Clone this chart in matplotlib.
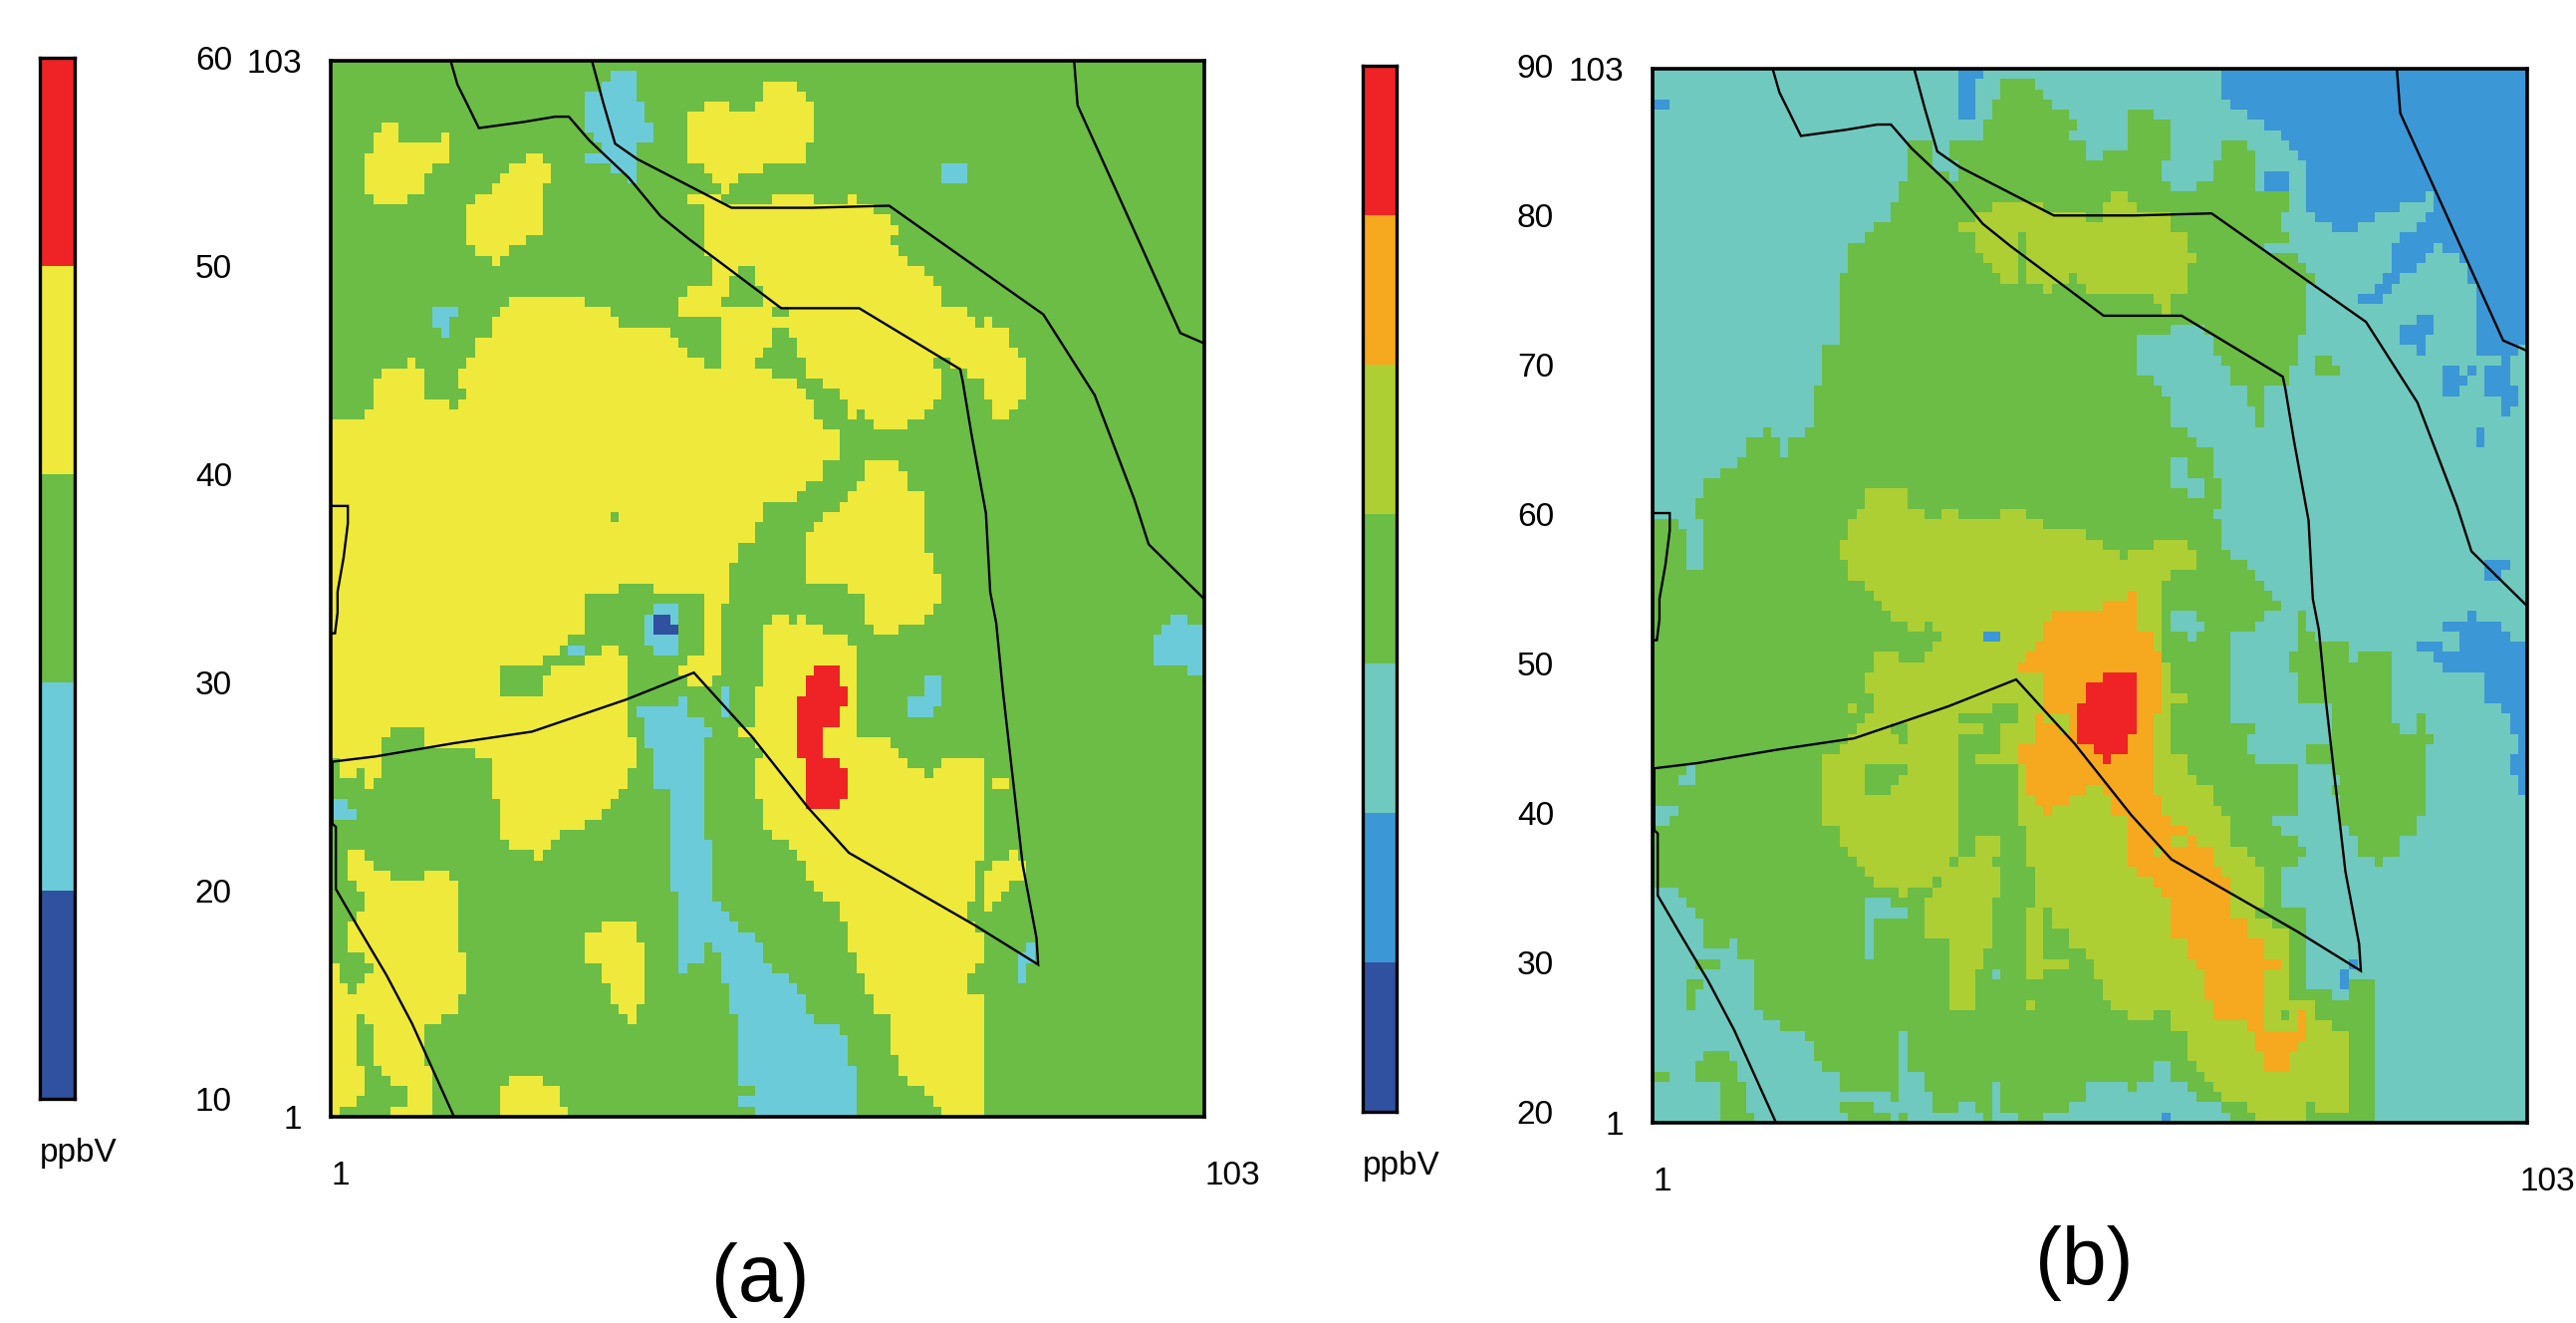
import numpy as np
import matplotlib
matplotlib.use("Agg")
import matplotlib.pyplot as plt
from matplotlib.colors import ListedColormap
from matplotlib.path import Path
from matplotlib.transforms import ScaledTranslation

W, H = 2586, 1328

levels_a = [10, 20, 30, 40, 50, 60]
levels_b = [20, 30, 40, 50, 60, 70, 80, 90]
colors_a = ["#3050a0", "#6ccbd9", "#6bbd45", "#eee93b", "#ef2325"]
colors_b = ["#3050a0", "#3b97d6", "#6fc9be", "#6bbd45", "#adcf33", "#f6a81e", "#ef2325"]

# district outlines, (column, row) on the 103 x 103 model grid
line_1 = [(15, 103), (15.8, 100.7), (17, 98.7), (18.3, 96.5), (23.6, 97.1), (27.2, 97.6), (28.8, 97.6), (31.2, 95.3),
          (35.8, 91.7), (39.5, 88), (42.8, 85.8), (46.2, 83.7), (53.6, 79.1), (62.7, 79.1), (74.5, 73.2), (74.8, 72),
          (75.8, 67), (77.5, 59.3), (78, 51.7), (78.7, 48.7), (79.5, 42), (80.5, 34.7), (81.8, 25.3), (83.4, 18.3),
          (83.6, 15.7), (76.2, 19.5), (61.5, 26.5), (56.8, 30.8), (50.2, 37.7), (43.4, 43.9), (35.5, 41.3),
          (24.5, 38.2), (15.5, 37.1), (6.2, 35.8), (1.2, 35.3), (1.2, 29.3), (1.6, 29), (1.6, 23), (4.2, 19.3),
          (7.5, 14.7), (10.5, 10), (15.4, 1)]
line_2 = [(31.5, 103), (32.8, 99), (34.2, 95), (36.8, 93.5), (47.8, 88.8), (57.2, 88.8), (66.2, 89), (84.2, 78.5),
          (90.2, 70.7), (94.8, 60.7), (96.5, 56.3), (103, 51)]
line_3 = [(87.8, 103), (88.2, 98.7), (92.8, 90.3), (100.2, 76.7), (103, 75.7)]
line_4 = [(1, 60), (3, 60), (3, 58.3), (2.5, 55), (1.8, 51.7), (1.8, 49.7), (1.5, 47.7), (1, 47.7)]
lines = [line_1, line_2, line_3, line_4]

# panel (a) regions, painted in order over the base level
a_yellow_1 = [(6.5, 96.9), (8.5, 96.9), (8.5, 96.3), (9.5, 95.2), (13.5, 95.2), (13.5, 96.3), (14.5, 96.3), (14.5, 93.1),
              (12.5, 93.1), (12.5, 92), (11.4, 92), (11.4, 90.3), (9.5, 90.3), (9.5, 89.2), (5.6, 89.2), (5.6, 90.3),
              (4.6, 90.3), (4.6, 94.1), (5.6, 94.1), (5.6, 96.3), (6.5, 96.3)]
a_yellow_2 = [(23.3, 94.1), (26.1, 94.1), (26.1, 93.1), (27.2, 93.1), (27.2, 91.3), (26.1, 91.3), (26.1, 86.3),
              (23.3, 86.3), (23.3, 85.3), (22.2, 85.3), (22.2, 84.2), (21.2, 84.2), (21.2, 83.1), (19.4, 83.1),
              (19.4, 84.2), (18.3, 84.2), (18.3, 85.3), (17.3, 85.3), (17.3, 89.2), (18.3, 89.2), (18.3, 90.3),
              (19.4, 90.3), (19.4, 91.3), (21.2, 91.3), (21.2, 92), (22.2, 92), (22.2, 93.1), (23.3, 93.1)]
a_yellow_3 = [(51.9, 101.2), (55, 101.2), (55, 100.1), (56, 100.1), (56, 99.1), (57.8, 99.1), (57.8, 95.2), (56.8, 95.2),
              (56.8, 94.1), (56, 94.1), (56, 93.1), (51.9, 93.1), (51.9, 92), (49, 92), (49, 91.3), (48, 91.3),
              (48, 90.3), (46.2, 90.3), (46.2, 91.3), (45.2, 91.3), (45.2, 92), (44.1, 92), (44.1, 93.1), (43, 93.1),
              (43, 98), (44.1, 98), (44.1, 99.1), (48, 99.1), (48, 98), (50.2, 98), (50.2, 99.1), (51.2, 99.1),
              (51.2, 100.1), (51.9, 100.1)]
a_yellow_main = [(22.2, 80.3), (30.4, 80.3), (30.4, 79.2), (33.2, 79.2), (33.2, 78.2), (34.2, 78.2), (34.2, 77.1),
                 (40.3, 77.1), (40.3, 76.4), (42, 76.4), (42, 75.3), (43, 75.3), (43, 74.3), (44.1, 74.3), (44.1, 73.2),
                 (46.2, 73.2), (46.2, 78.2), (42, 78.2), (42, 80.3), (43, 80.3), (43, 81.3), (45.2, 81.3), (45.2, 84.2),
                 (44.1, 85.3), (44.1, 89.2), (43, 89.2), (43, 90.3), (45.2, 90.3), (48, 89.2), (52.8, 89.2), (52.8, 90.3),
                 (56, 90.3), (56, 91.3), (56.8, 91.3), (56.8, 90.3), (57.8, 90.3), (57.8, 89.2), (61.7, 89.2),
                 (61.7, 90.3), (62.8, 90.3), (62.8, 89.2), (64.8, 89.2), (64.8, 88.2), (66.7, 88.2), (66.7, 87.1),
                 (67.7, 87.1), (67.7, 86.3), (66.7, 86.3), (66.7, 85.3), (67.7, 85.3), (67.7, 84.2), (68.7, 84.2),
                 (68.7, 83.1), (69.9, 83.1), (69.9, 82), (70.9, 82), (70.9, 81.3), (72, 81.3), (72, 80.3), (72.7, 80.3),
                 (72.7, 79.2), (74.8, 79.2), (74.8, 78.2), (75.8, 78.2), (75.8, 77.1), (76.8, 77.1), (76.8, 78.2),
                 (78.6, 78.2), (78.6, 77.1), (79.8, 77.1), (79.8, 75.3), (80.8, 75.3), (80.8, 74.3), (81.8, 74.3),
                 (81.8, 70.3), (80.8, 70.3), (80.8, 69.3), (79.8, 69.3), (79.8, 68.2), (78.6, 68.2), (78.6, 70.3),
                 (77.5, 70.3), (77.5, 71.1), (76.8, 72.2), (74.8, 72.2), (74.8, 73.2), (72, 73.2), (72, 70.3),
                 (70.9, 70.3), (70.9, 69.3), (69.9, 69.3), (69.9, 68.2), (68.7, 68.2), (68.7, 67.1), (64.8, 67.1),
                 (64.8, 68.2), (63.8, 68.2), (63.8, 69.3), (62.8, 69.3), (62.8, 68.2), (61.7, 68.2), (61.7, 69.3),
                 (61, 69.3), (61, 70.3), (60, 70.3), (60, 71.1), (58.8, 71.1), (58.8, 72.2), (56.8, 72.2), (56.8, 73.2),
                 (56, 73.2), (56, 74.3), (55, 74.3), (55, 76.4), (54, 76.4), (54, 77.1), (52.8, 77.1), (52.8, 75.3),
                 (51.9, 75.3), (51.9, 74.3), (50.2, 74.3), (50.2, 73.2), (52.8, 73.2), (52.8, 72.2), (55, 72.2),
                 (55, 71.3), (56.8, 71.3), (56.8, 70.3), (57.8, 70.3), (57.8, 68.2), (58.8, 68.2), (58.8, 67.1),
                 (60, 67.1), (60, 64.3), (58.8, 64.3), (58.8, 62.2), (56.8, 62.2), (56.8, 61.1), (55, 61.1), (55, 60.5),
                 (51.9, 60.5), (51.9, 59.3), (51.2, 59.3), (51.2, 58.3), (50.2, 58.3), (50.2, 56.2), (49, 56.2),
                 (49, 54.4), (48, 54.4), (48, 50.7), (46.9, 50.7), (46.9, 47.6), (46.2, 47.6), (46.2, 43.7), (45.2, 42.6),
                 (43, 42.6), (43, 43.7), (42, 43.7), (42, 44.7), (43, 44.7), (43, 45.8), (44.1, 45.8), (44.1, 51.5),
                 (39.1, 51.5), (39.1, 52.3), (34.2, 52.3), (34.2, 51.5), (31.1, 51.5), (31.1, 48.7), (30.4, 48.7),
                 (30.4, 47.6), (29.2, 47.6), (29.2, 46.5), (28.2, 46.5), (28.2, 45.8), (25.4, 45.8), (25.4, 44.7),
                 (21.2, 44.7), (21.2, 43.7), (20.5, 43.7), (20.5, 42.6), (21.2, 42.6), (21.2, 41.5), (25.4, 41.5),
                 (25.4, 40.9), (26.1, 40.9), (26.1, 43.7), (27.2, 43.7), (27.2, 44.7), (30.4, 44.7), (30.4, 45.8),
                 (32.2, 45.8), (32.2, 46.5), (34.2, 46.5), (34.2, 45.8), (35.3, 45.8), (35.3, 37.7), (36.3, 37.7),
                 (36.3, 34.8), (35.3, 34.8), (35.3, 32.7), (34.2, 32.7), (34.2, 31.6), (33.2, 31.6), (33.2, 30.5),
                 (32.2, 30.5), (32.2, 29.8), (30.4, 29.8), (30.4, 28.8), (28.2, 28.8), (28.2, 27.7), (27.2, 27.7),
                 (27.2, 26.6), (26.1, 26.6), (26.1, 25.6), (24.4, 25.6), (24.4, 26.6), (22.2, 26.6), (22.2, 27.7),
                 (21.2, 27.7), (21.2, 28.8), (20.5, 28.8), (20.5, 31.6), (19.4, 31.6), (19.4, 35.8), (18.3, 35.8),
                 (18.3, 36.6), (7.4, 36.2), (6.3, 35.7), (1, 35.4), (1, 67.1), (1.5, 68.2), (4.6, 68.2), (4.6, 69.3),
                 (6.3, 69.3), (6.3, 72.2), (7.4, 72.2), (7.4, 73.2), (9.5, 73.2), (9.5, 74.3), (10.6, 74.3), (10.6, 73.2),
                 (11.4, 73.2), (11.4, 70.3), (14.5, 70.3), (14.5, 69.3), (16.2, 69.3), (16.2, 70.3), (17.3, 70.3),
                 (17.3, 71.1), (16.2, 71.1), (16.2, 73.2), (17.3, 73.2), (17.3, 74.3), (18.3, 74.3), (18.3, 76.4),
                 (19.4, 76.4), (19.4, 78.2), (20.5, 78.2), (20.5, 79.2), (22.2, 79.2)]
a_yellow_lobe = [(63.8, 64.3), (67.7, 64.3), (67.7, 63.3), (68.7, 63.3), (68.7, 61.1), (69.9, 61.1), (69.9, 55.5),
                 (70.9, 55.5), (70.9, 53.4), (72, 53.4), (72, 50.7), (70.9, 50.7), (70.9, 49.7), (69.9, 49.7),
                 (69.9, 48.6), (67.7, 48.6), (67.7, 47.6), (64.8, 47.6), (64.8, 48.6), (63.8, 48.6), (63.8, 50.7),
                 (62.8, 51.5), (60, 52.3), (56, 52.3), (56, 54.4), (56.8, 54.4), (56.8, 57.3), (57.8, 57.3), (57.8, 58.3),
                 (58.8, 58.3), (58.8, 59.3), (60, 59.3), (60, 60.5), (61.7, 60.5), (61.7, 61.1), (62.8, 61.1),
                 (62.8, 62.2), (63.8, 62.2)]
a_yellow_band = [(52.8, 49.7), (54, 49.7), (54, 48.6), (55, 48.6), (55, 49.7), (56.8, 49.7), (56.8, 48.6), (58.8, 48.6),
                 (58.8, 47.6), (61, 47.6), (61, 46.5), (62.8, 46.5), (62.8, 37.7), (66, 37.7), (66, 36.6), (68.7, 35.8),
                 (68.7, 34.8), (69.9, 34.8), (69.9, 33.7), (70.9, 33.7), (70.9, 34.8), (72, 34.8), (72, 35.8),
                 (77.5, 35.8), (77.5, 29.8), (76.8, 29.8), (76.8, 28.8), (77.5, 28.8), (77.5, 25.6), (76.8, 25.6),
                 (75.8, 23.8), (75.8, 21.7), (74.8, 21.7), (74.8, 20.7), (76.8, 19.1), (76.8, 15.6), (75.8, 15.6),
                 (75.8, 14.9), (74.8, 14.9), (74.8, 12.8), (76.8, 12.8), (76.8, 11.7), (77.5, 11.7), (77.5, 2.9),
                 (76.8, 2.9), (76.8, 0.9), (72, 0.9), (72, 1.9), (70.9, 1.9), (70.9, 2.9), (69.9, 2.9), (69.9, 4),
                 (68.7, 4), (68.7, 5.1), (67.7, 5.1), (67.7, 6.8), (66.7, 6.8), (66.7, 8.9), (66, 8.9), (66, 10.7),
                 (64.8, 10.7), (64.8, 12.8), (63.8, 12.8), (63.8, 14.9), (62.8, 14.9), (62.8, 16.7), (61.7, 16.7),
                 (61.7, 18.8), (61, 18.8), (61, 19.8), (60, 19.8), (60, 21.7), (58.8, 21.7), (58.8, 22.8), (57.8, 22.8),
                 (57.8, 23.8), (56.8, 23.8), (56.8, 24.9), (56, 24.9), (56, 25.6), (55, 25.6), (55, 26.6), (54, 26.6),
                 (54, 27.7), (52.8, 27.7), (52.8, 28.8), (51.9, 28.8), (51.9, 29.8), (51.2, 29.8), (51.2, 31.6),
                 (50.2, 31.6), (50.2, 35.8), (51.2, 35.8), (51.2, 36.6), (49, 37.7), (49, 38.7), (50.2, 38.7),
                 (50.2, 42.6), (51.2, 42.6), (51.2, 45.8), (51.9, 45.8), (51.9, 48.6), (52.8, 48.6)]
a_yellow_left = [(2.5, 26.6), (4.6, 26.6), (4.6, 25.6), (6.3, 25.6), (6.3, 24.9), (8.4, 24.9), (8.4, 23.8), (11.4, 23.8),
                 (11.4, 24.9), (14.5, 24.9), (14.5, 23.8), (15.5, 23.8), (15.5, 20.7), (16.2, 20.7), (16.2, 16.7),
                 (17.3, 16.7), (17.3, 12.8), (16.2, 12.8), (16.2, 11.7), (15.5, 11.7), (15.5, 10.7), (13.4, 10.7),
                 (13.4, 10), (11.4, 10), (11.4, 5.7), (12.4, 5.7), (12.4, 0.9), (1, 0.9), (1, 15.6), (2.5, 16.7),
                 (2.5, 19.8), (3.6, 19.8), (4.6, 20.7), (4.6, 22.8), (3.6, 23.8), (2.5, 24.9)]
a_yellow_4 = [(32.2, 19.8), (36.3, 19.8), (36.3, 18.8), (37, 18.8), (37, 17.7), (38, 17.7), (38, 11.7), (37, 11.7),
              (37, 10.7), (36.3, 10.7), (36.3, 10), (35.3, 10), (35.3, 10.7), (34.2, 10.7), (34.2, 11.7), (33.2, 11.7),
              (33.2, 13.9), (32.2, 13.9), (32.2, 15.6), (31.1, 15.6), (31.1, 16.7), (30.4, 16.7), (30.4, 17.7),
              (31.1, 17.7), (31.1, 18.8), (32.2, 18.8)]
a_yellow_5 = [(22.2, 5.1), (26.1, 5.1), (26.1, 4), (28.2, 4), (28.2, 1.9), (29.2, 1.9), (29.2, 0.9), (20.5, 0.9),
              (20.5, 4), (22.2, 4)]
a_yellow_6 = [(1.5, 35.2), (7.4, 35.7), (7.4, 33.7), (6.3, 33.7), (6.3, 32.7), (4.6, 32.7), (4.6, 34.8), (3.6, 34.8),
              (3.6, 33.7), (1.5, 33.7)]
a_yellow_7 = [(79.8, 34.8), (80.5, 34.8), (80.5, 32.7), (78.6, 32.7), (78.6, 33.7), (79.8, 33.7)]
a_yellow_8 = [(79.8, 26.6), (81.5, 26.6), (82, 23.6), (80.8, 23.6), (79.8, 22.8), (78.6, 21.7), (78.6, 20.7), (77.5, 20.7),
              (77.5, 21.7), (76.8, 21.7), (76.8, 22.8), (77.5, 22.8), (77.5, 24.9), (78.6, 24.9), (78.6, 25.6), (79.8, 25.6)]
a_green_1 = [(8.4, 38.7), (11.4, 38.7), (11.4, 36.6), (7.4, 36.2), (7.4, 37.7), (8.4, 37.7)]
a_green_2 = [(3.6, 10.7), (4.6, 10.7), (4.6, 10), (5.6, 10), (5.6, 8.9), (6.3, 8.9), (6.3, 5.7), (7.4, 5.7), (7.4, 5.1),
             (8.4, 5.1), (8.4, 4), (9.5, 4), (9.5, 1.9), (8.4, 1.9), (8.4, 0.9), (1.5, 0.9), (1.5, 1.9), (3.6, 1.9),
             (3.6, 2.9), (4.6, 2.9), (4.6, 5.7), (3.6, 5.7)]
a_green_3 = [(1.5, 16.7), (4.6, 16.7), (4.6, 15.6), (5.6, 15.6), (5.6, 14.9), (4.6, 14.9), (4.6, 13.9), (3.6, 13.9),
             (3.6, 12.8), (2.5, 12.8), (2.5, 13.9), (1.5, 13.9)]
a_green_4 = [(49, 83.1), (50.2, 83.1), (50.2, 82), (51.2, 81.3), (51.9, 81.3), (51.9, 79.2), (46.9, 79.2), (46.9, 80.3),
             (48, 80.3), (48, 82), (49, 82)]
a_green_5 = [(52.8, 79.2), (54, 79.2), (54, 78.2), (52.8, 78.2)]
a_green_6 = [(33.2, 59.5), (34.2, 59.5), (34.2, 58.3), (33.2, 58.3)]
a_green_7 = [(70.9, 74.3), (72.8, 74.3), (72.8, 73.2), (70.9, 73.2)]
a_cyan_1 = [(41.3, 41.5), (43, 41.5), (43, 39.8), (44.1, 39.8), (44.1, 38.7), (45.2, 38.7), (45.2, 37.7), (44.1, 37.7),
            (44.1, 27.7), (45.2, 27.7), (45.2, 21.7), (46.2, 21.7), (46.2, 20.7), (48, 20.7), (48, 19.8), (49, 19.8),
            (49, 18.8), (50.2, 18.8), (50.2, 17.7), (51.2, 17.7), (51.2, 16.7), (51.9, 16.7), (51.9, 15.6), (52.8, 15.6),
            (52.8, 14.9), (54, 14.9), (54, 13.9), (55, 13.9), (55, 12.8), (56, 12.8), (56, 11.7), (56.8, 11.7),
            (56.8, 10.7), (57.8, 10.7), (57.8, 10), (60, 10), (60, 8.9), (61, 8.9), (61, 7.9), (61.7, 7.9), (61.7, 5.7),
            (62.8, 5.7), (62.8, 0.9), (50.2, 0.9), (50.2, 1.9), (49, 1.9), (49, 2.9), (50.2, 2.9), (50.2, 4), (49, 4),
            (49, 10.7), (48, 10.7), (48, 13.9), (46.9, 13.9), (46.9, 15.6), (46.2, 15.6), (46.2, 16.7), (45.2, 16.7),
            (45.2, 17.7), (44.1, 17.7), (44.1, 15.6), (43, 15.6), (43, 14.9), (42, 14.9), (42, 4), (41.3, 4), (41.3, 22.8),
            (40.3, 22.8), (40.3, 32.7), (39.1, 32.7), (39.1, 36.6), (38, 36.6), (38, 39.8), (37, 39.8), (37, 40.9),
            (41.3, 40.9)]
a_cyan_2 = [(33.2, 102), (36.3, 102), (36.3, 101.2), (37, 101.2), (37, 99.1), (38, 99.1), (38, 96.9), (39.1, 96.9),
            (39.1, 95.2), (37, 95.2), (37, 91.3), (35.3, 91.3), (35.3, 92), (33.2, 92), (33.2, 93.1), (31.1, 93.1),
            (31.1, 94.1), (33.2, 94.1), (32.2, 95.2), (31.1, 96.3), (31.1, 100.1), (32.4, 100.1), (32.4, 101.2),
            (33.2, 101.2)]
a_cyan_3 = [(72.7, 93.1), (74.8, 93.1), (74.8, 91.3), (72.7, 91.3)]
a_cyan_4 = [(12.4, 79.2), (15.5, 79.2), (15.5, 78.2), (14.5, 78.2), (14.5, 76.4), (13.4, 76.4), (13.4, 77.1), (12.4, 77.1)]
a_cyan_5 = [(39.1, 50.7), (41.3, 50.7), (41.3, 49.7), (42, 49.7), (42, 46.5), (41.3, 46.5), (41.3, 45.8), (39.1, 45.8),
            (39.1, 46.5), (38, 46.5), (38, 49.7), (39.1, 49.7)]
a_cyan_6 = [(29.2, 46.5), (30.4, 46.5), (30.4, 45.8), (29.2, 45.8)]
a_cyan_7 = [(46.9, 42.6), (48, 42.6), (48, 39.8), (46.9, 39.8)]
a_cyan_8 = [(69.9, 43.7), (72.7, 43.7), (72.7, 40.9), (70.9, 40.9), (70.9, 39.8), (68.7, 39.8), (68.7, 41.5), (69.9, 41.5)]
a_cyan_9 = [(99.5, 49.7), (100.6, 49.7), (100.6, 48.6), (103, 48.6), (103, 43.7), (100.6, 43.7), (100.6, 44.7),
            (97.3, 44.7), (97.3, 47.6), (98.4, 47.6), (98.4, 48.6), (99.5, 48.6)]
a_cyan_10 = [(1, 31.6), (2.5, 31.6), (2.5, 30.5), (3.6, 30.5), (3.6, 29.8), (1, 29.8)]
a_cyan_11 = [(81.8, 17.7), (83.2, 17.7), (83.2, 15.6), (82.5, 15.6), (82.5, 13.9), (80.8, 13.9), (80.8, 16.7), (81.8, 16.7)]
a_blue_1 = [(36.3, 99.1), (37, 99.1), (37, 95.2), (36.3, 95.2)]
a_blue_2 = [(39.1, 49.7), (40.3, 49.7), (40.3, 48.6), (41.3, 48.6), (41.3, 47.6), (39.1, 47.6)]
a_red_1 = [(57.8, 44.7), (60, 44.7), (60, 42.6), (61, 42.6), (61, 40.9), (60, 40.9), (60, 38.7), (58.8, 38.7), (58.8, 35.8),
           (60, 35.8), (60, 34.8), (61, 34.8), (61, 33.7), (61.7, 33.7), (61.7, 32.7), (61, 32.7), (61, 31.6), (60, 31.6),
           (60, 30.5), (56.8, 30.5), (56.8, 31.6), (56, 31.6), (56, 35.8), (55, 35.8), (55, 41.5), (56, 41.5), (56, 42.6),
           (56.8, 42.6), (56.8, 43.7), (57.8, 43.7)]

a_regions = [(3, a_yellow_1), (3, a_yellow_2), (3, a_yellow_3), (3, a_yellow_main), (3, a_yellow_lobe),
             (3, a_yellow_band), (3, a_yellow_left), (3, a_yellow_4), (3, a_yellow_5), (3, a_yellow_6), (3, a_yellow_7),
             (3, a_yellow_8), (2, a_green_1), (2, a_green_2), (2, a_green_3), (2, a_green_4), (2, a_green_5),
             (2, a_green_6), (2, a_green_7), (1, a_cyan_1), (1, a_cyan_2), (1, a_cyan_3), (1, a_cyan_4), (1, a_cyan_5),
             (1, a_cyan_6), (1, a_cyan_7), (1, a_cyan_8), (1, a_cyan_9), (1, a_cyan_10), (1, a_cyan_11), (0, a_blue_1),
             (0, a_blue_2), (4, a_red_1)]

# panel (b) regions
b_blue_1 = [(67.7, 102.8), (67.7, 100.3), (68.8, 100.3), (68.8, 99.2), (70, 99.2), (70, 98.2), (72, 98.2), (72, 97.2),
            (73.8, 97.2), (73.8, 96.4), (74.8, 96.4), (74.8, 95.3), (75.8, 95.3), (75.8, 94.3), (76.9, 94.3), (76.9, 93.2),
            (77.6, 93.2), (77.6, 89.3), (78.6, 89.3), (78.6, 88.3), (79.8, 88.3), (79.8, 87.2), (83.6, 87.2), (83.6, 88.3),
            (84.7, 88.3), (84.7, 89.3), (88.6, 89.3), (88.6, 90.4), (90.7, 90.4), (90.7, 91.5), (91.8, 91.5), (91.8, 90.4),
            (92.4, 90.4), (92.4, 89.3), (90.7, 89.3), (90.7, 88.3), (89.7, 88.3), (89.7, 87.2), (88.6, 87.2), (88.6, 86.5),
            (87.4, 86.5), (87.4, 84.4), (86.8, 84.4), (86.8, 83.3), (85.8, 83.3), (85.8, 82.3), (84.7, 82.3), (84.7, 81.5),
            (83.6, 81.5), (83.6, 80.4), (85.8, 80.4), (85.8, 81.5), (87.4, 81.5), (87.4, 82.3), (88.6, 82.3), (88.6, 83.3),
            (89.7, 83.3), (89.7, 84.4), (90.7, 84.4), (90.7, 85.5), (92.4, 85.5), (92.4, 86.5), (93.5, 86.5), (93.5, 85.5),
            (94.6, 85.5), (94.6, 84.4), (95.6, 84.4), (95.6, 82.3), (97.4, 82.3), (97.4, 75.5), (101.7, 75.5), (101.7, 76.6),
            (103, 76.6), (103, 102.8)]
b_blue_2 = [(89.7, 79.4), (91.8, 79.4), (91.8, 77.2), (90.7, 77.2), (90.7, 75.5), (89.7, 75.5), (89.7, 76.6), (88.6, 76.6),
            (88.6, 78.3), (89.7, 78.3)]
b_blue_3 = [(99.6, 75.5), (100.6, 75.5), (100.6, 72.3), (101.7, 72.3), (101.7, 70.6), (100.6, 70.6), (100.6, 69.5),
            (99.6, 69.5), (99.6, 71.6), (98.4, 71.6), (98.4, 74.4), (99.6, 74.4)]
b_blue_4 = [(93.5, 74.4), (94.6, 74.4), (94.6, 73.4), (95.6, 73.4), (95.6, 72.3), (94.6, 72.3), (94.6, 71.6), (93.5, 71.6)]
b_blue_5 = [(95.6, 74.4), (96.7, 74.4), (96.7, 73.4), (95.6, 73.4)]
b_blue_6 = [(96.7, 75.5), (97.4, 75.5), (97.4, 74.4), (96.7, 74.4)]
b_blue_7 = [(97.4, 68.4), (98.4, 68.4), (98.4, 66.3), (97.4, 66.3)]
b_blue_8 = [(72.7, 93.2), (74.8, 93.2), (74.8, 91.5), (72.7, 91.5)]
b_blue_9 = [(98.4, 55.6), (100.6, 55.6), (100.6, 54.6), (99.6, 54.6), (99.6, 53.5), (98.4, 53.5)]
b_blue_10 = [(37.1, 102.8), (39.2, 102.8), (39.2, 102.1), (38.2, 102.1), (38.2, 98.2), (37.1, 98.2), (37.1, 96.4),
             (36.4, 96.4), (36.4, 102.1), (37.1, 102.1)]
b_blue_11 = [(1.4, 100.3), (2.6, 100.3), (2.6, 99.2), (1.4, 99.2)]
b_blue_12 = [(1, 102.8), (1.4, 102.8), (1.4, 100.3), (1, 100.3)]
b_blue_13 = [(97.4, 52.5), (97.4, 49.9), (99.6, 49.9), (99.6, 48.8), (100.6, 48.8), (100.6, 47.7), (103, 47.7), (103, 32.8),
             (101.7, 32.8), (101.7, 35), (100.6, 35), (100.6, 36.7), (101.7, 36.7), (101.7, 38.8), (100.6, 38.8),
             (100.6, 41), (99.6, 41), (99.6, 41.7), (98.4, 41.7), (98.4, 44.9), (93.5, 44.9), (93.5, 46), (92.4, 46),
             (92.4, 46.7), (89.7, 46.7), (89.7, 47.7), (93.5, 47.7), (93.5, 46.7), (94.6, 46.7), (94.6, 48.8), (93.5, 48.8),
             (93.5, 49.9), (95.6, 49.9), (95.6, 50.9), (97.4, 50.9), (97.4, 52.5), (98.4, 52.5), (98.4, 49.9)]
b_blue_14 = [(39.2, 48.8), (41.4, 48.8), (41.4, 47.7), (39.2, 47.7)]
b_blue_15 = [(81.9, 16.7), (83.6, 16.7), (83.6, 15.8), (82.6, 15.8), (82.6, 14), (80.8, 14), (80.8, 15.8), (81.9, 15.8)]
b_blue_16 = [(60, 2), (61.8, 2), (61.8, 0.9), (60, 0.9)]
b_blue_17 = [(41.4, 3), (42, 3), (42, 0.9), (41.4, 0.9)]
b_navy_1 = [(36.4, 99.2), (37.1, 99.2), (37.1, 97.2), (36.4, 97.2)]

b_green_main = [(42, 102.1), (45.2, 102.1), (45.2, 101.3), (46.2, 101.3), (46.2, 100.3), (48, 100.3), (48, 99.2), (49.1, 99.2),
                (49.1, 98.2), (50.2, 98.2), (50.2, 97.2), (49.1, 97.2), (49.1, 96.4), (51.2, 96.4), (51.2, 94.3), (53, 94.3),
                (53, 95.3), (56.1, 95.3), (56.1, 97.2), (56.8, 97.2), (56.8, 99.2), (59, 99.2), (59, 98.2), (61.1, 98.2),
                (61.1, 96.4), (61.8, 96.4), (61.8, 95.3), (61.1, 95.3), (61.1, 94.3), (60, 94.3), (60, 92.1), (61.1, 92.1),
                (61.1, 91.5), (63.9, 91.5), (63.9, 92.1), (66, 92.1), (66, 93.2), (66.7, 93.2), (66.7, 94.3), (67.7, 94.3),
                (67.7, 96.4), (70, 96.4), (70, 95.3), (71, 95.3), (71, 91.5), (74.8, 91.5), (74.8, 89.3), (73.8, 89.3),
                (73.8, 87.2), (74.8, 87.2), (74.8, 86.5), (72.7, 86.5), (72.7, 85.5), (75.8, 85.5), (75.8, 84.4), (77.6, 84.4),
                (77.6, 83.3), (78.6, 83.3), (78.6, 82.3), (77.6, 82.3), (77.6, 79.4), (76.9, 79.4), (76.9, 77.2), (75.8, 77.2),
                (75.8, 74.4), (74.8, 74.4), (74.8, 72.3), (72.7, 72.3), (72.7, 68.4), (71, 68.4), (71, 70.6), (70, 70.6),
                (70, 72.3), (68.8, 72.3), (68.8, 74.4), (67.7, 74.4), (67.7, 75.5), (66.7, 75.5), (66.7, 77.2), (65, 77.2),
                (65, 78.3), (61.8, 78.3), (61.8, 77.2), (57.9, 77.2), (57.9, 73.4), (59, 73.4), (59, 72.3), (60, 72.3),
                (60, 71.6), (61.1, 71.6), (61.1, 70.6), (61.8, 70.6), (61.8, 68.4), (62.9, 68.4), (62.9, 67.4), (63.9, 67.4),
                (63.9, 66.3), (66.7, 66.3), (66.7, 63.5), (67.7, 63.5), (67.7, 60.6), (66.7, 60.6), (66.7, 59.5), (67.7, 59.5),
                (67.7, 56.3), (68.8, 56.3), (68.8, 55.6), (70, 55.6), (70, 54.6), (71, 54.6), (71, 53.5), (72, 53.5), (72, 52.5),
                (72.7, 52.5), (73.8, 51.6), (73.8, 50.9), (72.7, 50.9), (72.7, 49.9), (71, 49.9), (71, 48.8), (68.8, 48.8),
                (68.8, 39.9), (71, 39.9), (71, 38.8), (70, 38.8), (70, 36.7), (71, 36.7), (71, 36), (72.7, 36), (72.7, 30.7),
                (73.8, 30), (73.8, 29), (75.8, 29), (75.8, 27.9), (76.9, 27.9), (76.9, 26.8), (75.8, 26.8), (75.8, 25.8),
                (73.8, 25.8), (73.8, 21.8), (76.9, 21.8), (76.9, 14), (79.8, 14), (79.8, 13), (81.9, 13), (81.9, 15.1),
                (84.7, 15.1), (84.7, 0.9), (23.4, 0.9), (23.4, 2), (22.3, 2), (22.3, 3), (28.3, 3), (28.3, 4.1), (22.3, 4.1),
                (22.3, 6), (21.2, 6), (21.2, 7), (19.4, 7), (19.4, 9.1), (18.4, 9.1), (18.4, 10.2), (15.6, 10.2), (15.6, 10.9),
                (13.5, 10.9), (13.5, 12), (12.4, 12), (12.4, 16.9), (10.6, 16.9), (10.6, 19), (9.6, 19), (9.6, 18), (7.4, 18),
                (7.4, 20.7), (6.4, 20.7), (6.4, 21.8), (4.7, 21.8), (4.7, 22.9), (3.6, 22.9), (3.6, 24), (1, 24), (1, 59.5),
                (3.6, 59.5), (3.6, 58.5), (4.7, 58.5), (4.7, 54.6), (7.4, 54.6), (7.4, 59.5), (5.7, 59.5), (5.7, 61.4),
                (7.4, 61.4), (7.4, 63.5), (8.5, 63.5), (8.5, 64.6), (10.6, 64.6), (10.6, 65.6), (11.4, 65.6), (11.4, 67.4),
                (13.5, 67.4), (13.5, 68.4), (14.6, 68.4), (14.6, 67.4), (15.6, 67.4), (15.6, 66.3), (16.3, 66.3), (16.3, 65.6),
                (17.3, 65.6), (17.3, 67.4), (18.4, 67.4), (18.4, 68.4), (19.4, 68.4), (19.4, 72.3), (20.6, 72.3), (20.6, 74.4),
                (21.2, 74.4), (21.2, 76.6), (22.3, 76.6), (22.3, 83.3), (23.4, 83.3), (23.4, 86.5), (26.2, 86.5), (26.2, 87.2),
                (27.2, 87.2), (27.2, 88.3), (28.3, 88.3), (28.3, 90.4), (29.4, 90.4), (29.4, 92.1), (30.4, 92.1), (30.4, 96.4),
                (33.2, 96.4), (33.2, 93.2), (35.4, 93.2), (35.4, 92.1), (37.1, 92.1), (37.1, 94.3), (35.4, 94.8), (35.4, 96.4),
                (39.2, 96.4), (39.2, 98.2), (40.3, 98.2), (40.3, 100.3), (42, 100.3)]
b_teal_1 = [(61.8, 65.6), (62.9, 65.6), (62.9, 63.5), (65, 63.5), (65, 61.4), (62.9, 61.4), (62.9, 62.4), (61.1, 62.4),
            (61.1, 64.6), (61.8, 64.6)]
b_green_2 = [(78.6, 75.5), (79.8, 75.5), (79.8, 74.4), (80.8, 74.4), (80.8, 73.4), (78.6, 73.4)]
b_green_3 = [(75.8, 50.9), (76.9, 50.9), (76.9, 49.9), (77.6, 49.9), (77.6, 48.8), (78.6, 48.8), (78.6, 47.7), (82.6, 47.7),
             (82.6, 46), (83.6, 46), (83.6, 46.7), (87.4, 46.7), (87.4, 39.9), (88.6, 39.9), (88.6, 38.8), (89.7, 38.8),
             (89.7, 41), (90.7, 41), (90.7, 38.8), (91.8, 38.8), (91.8, 37.8), (90.7, 37.8), (90.7, 30.7), (89.7, 30.7),
             (89.7, 29), (88.6, 29), (88.6, 26.8), (85.8, 26.8), (85.8, 25.8), (84.7, 25.8), (84.7, 26.8), (83.6, 26.8),
             (83.6, 29), (81.9, 29), (81.9, 30), (80.8, 30), (80.8, 32.8), (79.8, 32.8), (79.8, 33.9), (80.8, 33.9), (80.8, 35),
             (79.8, 35), (79.8, 36), (77.6, 36), (77.6, 37.8), (79.8, 37.8), (79.8, 41.7), (75.8, 41.7), (75.8, 44.9),
             (74.8, 44.9), (74.8, 46.7), (75.8, 46.7)]
b_teal_2 = [(61.8, 50.9), (63.9, 50.9), (63.9, 49.9), (65, 49.9), (65, 48.8), (63.9, 48.8), (63.9, 47.7), (62.9, 47.7),
            (62.9, 48.8), (61.8, 48.8)]
b_green_4 = [(72, 36), (75.8, 36), (75.8, 30.7), (72.7, 30.7), (72.7, 31.8), (72, 31.8)]
b_teal_3 = [(26.2, 22.9), (28.3, 22.9), (28.3, 21.8), (30.4, 21.8), (30.4, 20.7), (27.2, 20.7), (27.2, 16.9), (26.2, 16.9)]
b_teal_4 = [(41.4, 18), (42, 18), (42, 2), (43.1, 2), (43.1, 0.9), (40.3, 0.9), (40.3, 5.2), (41.4, 5.2), (41.4, 15.1),
            (40.3, 15.1), (40.3, 15.8), (41.4, 15.8)]
b_teal_5 = [(46.2, 2), (49.1, 2), (49.1, 3), (51.2, 3), (51.2, 5.2), (56.8, 5.2), (56.8, 4.1), (57.9, 4.1), (57.9, 5.2),
            (59, 5.2), (59, 7), (61.1, 7), (61.1, 5.2), (62.9, 5.2), (62.9, 4.1), (63.9, 4.1), (63.9, 3), (67.7, 3), (67.7, 2),
            (68.8, 2), (68.8, 0.9), (46.2, 0.9)]
b_teal_6 = [(29.4, 10.2), (30.4, 10.2), (30.4, 7), (31.2, 7), (31.2, 6), (32.2, 6), (32.2, 4.1), (33.2, 4.1), (33.2, 2),
            (36.4, 2), (36.4, 3), (38.2, 3), (38.2, 2), (39.2, 2), (39.2, 0.9), (30.4, 0.9), (30.4, 2), (29.4, 2), (29.4, 0.9),
            (28.3, 0.9), (28.3, 2), (27.2, 2), (27.2, 3), (29.4, 3)]
b_teal_7 = [(4.7, 36), (6.4, 36), (6.4, 35), (5.7, 35), (5.7, 33.9), (3.6, 33.9), (3.6, 35), (4.7, 35)]
b_teal_8 = [(1, 31.8), (3.6, 31.8), (3.6, 30.7), (2.6, 30.7), (2.6, 30), (1, 30)]
b_green_5 = [(7.4, 8.1), (9.6, 8.1), (9.6, 7), (10.6, 7), (10.6, 5.2), (11.4, 5.2), (11.4, 2), (12.4, 2), (12.4, 0.9), (8.5, 0.9),
             (8.5, 5.2), (6.4, 5.2), (6.4, 7), (7.4, 7)]
b_green_6 = [(4.7, 15.1), (7.4, 15.1), (7.4, 14), (6.4, 14), (6.4, 12), (4.7, 12)]
b_green_7 = [(1, 10.2), (1.4, 10.2), (1.4, 6), (2.6, 6), (2.6, 5.2), (1, 5.2)]
b_green_8 = [(6.4, 16.9), (8.5, 16.9), (8.5, 15.8), (6.4, 15.8)]

b_yg_1 = [(40.3, 90.4), (45.2, 90.4), (46.2, 90), (48, 88.8), (51.2, 89.3), (51.2, 88.3), (53, 88.3), (53, 90.4), (54, 90.4),
          (54, 91.5), (56.8, 91.5), (56.8, 90.4), (57.9, 90.4), (57.9, 89.3), (61.1, 88.8), (61.8, 88.3), (61.8, 87.2),
          (62.9, 87.2), (62.9, 85.5), (63.9, 85.5), (63.9, 84.4), (62.9, 84.4), (62.9, 81.5), (61.8, 81.5), (61.8, 79.4),
          (60, 79.4), (60, 80.4), (59, 80.4), (59, 81.5), (51.2, 81.5), (51.2, 82.3), (50.2, 82.3), (50.2, 83.3), (49.1, 83.3),
          (49.1, 82.3), (48, 82.3), (48, 81.5), (47, 81.5), (47, 82.3), (44.2, 82.3), (44.2, 87.2), (43.1, 87.2), (43.1, 82.3),
          (42, 82.3), (42, 83.3), (40.3, 83.3), (40.3, 84.4), (39.2, 84.4), (39.2, 85.5), (38.2, 85.5), (38.2, 87.2),
          (37.1, 87.2), (37.1, 88.3), (38.2, 88.3), (38.2, 89.3), (40.3, 89.3)]
b_yg_main = [(26.2, 62.4), (31.2, 62.4), (31.2, 60.6), (32.2, 60.6), (32.2, 59.5), (34.3, 59.5), (34.3, 60.6), (37.1, 60.6),
             (37.1, 59.5), (42, 59.5), (42, 60.6), (44.2, 60.6), (44.2, 59.5), (46.2, 59.5), (46.2, 58.5), (52, 58.5),
             (52, 57.4), (53, 57.4), (53, 56.3), (55.1, 56.3), (55.1, 55.6), (56.8, 55.6), (56.8, 56.3), (59, 56.3), (59, 57.4),
             (62.9, 57.4), (62.9, 56.3), (63.9, 56.3), (63.9, 54.6), (61.8, 54.6), (61.8, 53.5), (60, 53.5), (60, 46.7),
             (61.1, 44.9), (61.1, 41.7), (61.8, 41.7), (61.8, 36.7), (62.9, 36.7), (62.9, 35), (63.9, 35), (63.9, 33.9), (66, 33.9),
             (66, 32.8), (66.7, 32.8), (66.7, 31.8), (67.7, 31.8), (67.7, 30.7), (68.8, 30.7), (68.8, 27.9), (70, 27.9), (70, 26.8),
             (71, 26.8), (71, 25.8), (72, 25.8), (72, 21.8), (71, 21.8), (71, 20.7), (74.8, 20), (74.8, 13), (78.6, 13), (78.6, 10.9),
             (79.8, 10.9), (79.8, 10.2), (81.9, 10.2), (81.9, 7), (82.6, 7), (82.6, 3), (81.9, 3), (81.9, 2), (78.6, 2), (78.6, 3),
             (76.9, 3), (76.9, 0.9), (71, 0.9), (71, 2), (70, 2), (70, 3), (67.7, 3), (67.7, 4.1), (66.7, 4.1), (66.7, 5.2), (65, 5.2),
             (65, 6), (63.9, 6), (63.9, 7), (62.9, 7), (62.9, 10.2), (61.8, 10.2), (61.8, 10.9), (61.1, 10.9), (61.1, 12), (59, 12),
             (59, 10.9), (56.1, 10.9), (56.1, 12), (54, 12), (54, 13), (53, 13), (53, 15.1), (52, 15.1), (52, 16.9), (51.2, 16.9),
             (51.2, 18), (49.1, 18), (49.1, 20), (48, 20), (48, 21.8), (47, 21.8), (47, 16.9), (49.1, 16.9), (49.1, 15.8), (47, 15.8),
             (47, 15.1), (44.2, 15.1), (44.2, 21.8), (45.2, 21.8), (45.2, 25.8), (44.2, 25.8), (44.2, 30), (43.1, 30), (43.1, 36),
             (37.1, 36), (37.1, 29), (36.4, 29), (36.4, 26.8), (35.4, 26.8), (35.4, 25.8), (37.1, 25.8), (37.1, 26.8), (38.2, 26.8),
             (38.2, 29), (41.4, 29), (41.4, 26.8), (40.3, 26.8), (40.3, 25.8), (41.4, 25.8), (41.4, 22.9), (40.3, 22.9), (40.3, 18),
             (39.2, 18), (39.2, 15.8), (38.2, 15.8), (38.2, 12), (37.1, 12), (37.1, 10.9), (36.4, 10.9), (36.4, 12), (35.4, 12),
             (35.4, 19), (32.2, 19), (32.2, 22.9), (33.2, 22.9), (34.3, 24), (34.3, 25), (33.2, 25), (33.2, 24), (31.2, 24),
             (31.2, 22.9), (29.4, 22.9), (29.4, 24), (27.2, 24), (27.2, 25), (25.5, 25), (25.5, 25.8), (24.4, 25.8), (24.4, 26.8),
             (23.4, 26.8), (23.4, 27.9), (22.3, 27.9), (22.3, 30), (21.2, 30), (21.2, 32.8), (20.6, 32.8), (20.6, 36), (21.2, 36),
             (21.2, 36.7), (22.3, 36.7), (22.3, 37.8), (23.4, 37.8), (23.4, 38.8), (24.4, 38.8), (24.4, 39.9), (25.5, 39.9),
             (25.5, 41), (27.2, 41), (27.2, 42.8), (26.2, 42.8), (26.2, 44.9), (27.2, 44.9), (27.2, 46.7), (29.4, 46.7), (29.4, 46),
             (32.2, 46), (32.2, 46.7), (33.2, 46.7), (33.2, 47.7), (34.3, 47.7), (34.3, 48.8), (33.2, 48.8), (33.2, 49.9), (32.2, 49.9),
             (32.2, 48.8), (30.4, 48.8), (30.4, 49.9), (28.3, 49.9), (28.3, 50.9), (27.2, 51.6), (26.2, 52.5), (24.4, 53.5), (23.4, 54.6),
             (23.4, 55.6), (22.3, 55.6), (22.3, 57.4), (23.4, 57.4), (23.4, 59.5), (24.4, 59.5), (24.4, 60.6), (25.5, 60.6), (25.5, 61.4),
             (26.2, 61.4)]
b_green_9 = [(25.5, 36), (30.4, 36), (30.4, 35), (29.4, 35), (29.4, 33.9), (28.3, 33.9), (28.3, 32.8), (26.2, 32.8), (26.2, 33.9), (25.5, 33.9)]
b_green_10 = [(40.3, 41.7), (43.1, 41.7), (43.1, 39.9), (41.4, 39.9), (41.4, 36.7), (38.2, 36.7), (38.2, 36), (37.1, 36), (36.4, 36.7),
              (36.4, 38.8), (39.2, 38.8), (39.2, 39.9), (37.1, 39.9), (37.1, 41), (40.3, 41)]
b_green_11 = [(28.3, 39.9), (31.2, 39.9), (31.2, 38.8), (30.4, 38.8), (30.4, 37.8), (29.4, 37.8), (29.4, 38.8), (28.3, 38.8)]
b_green_12 = [(73.8, 11.9), (74.8, 11.9), (74.8, 10.9), (73.8, 10.9)]
b_yg_2 = [(44.2, 13), (45.2, 13), (45.2, 12), (44.2, 12)]
b_yg_3 = [(23.4, 41.7), (24.4, 41.7), (24.4, 41), (23.4, 41)]
b_yg_4 = [(61.8, 42.8), (62.9, 42.8), (62.9, 41.7), (61.8, 41.7)]

b_orange_1 = [(56.1, 52.5), (57.9, 52.5), (57.9, 48.8), (59, 48.8), (59, 46.7), (60, 46.7), (60, 41), (59, 41), (59, 32.8), (60, 32.8),
              (60, 30.7), (61.1, 30.7), (61.1, 27.9), (66, 27.9), (66, 25.8), (67.7, 25.8), (67.7, 25), (68.8, 25), (68.8, 20.7),
              (70, 20.7), (70, 19), (72.7, 19), (72.7, 16.9), (73.8, 16.9), (73.8, 15.8), (72.7, 15.8), (72.7, 14), (72, 14), (72, 13),
              (72.7, 13), (72.7, 10.2), (75.8, 10.2), (75.8, 12), (76.9, 12), (76.9, 9.1), (75.8, 9.1), (75.8, 8.1), (74.8, 8.1),
              (74.8, 6), (72, 6), (72, 8.1), (71, 8.1), (71, 10.2), (70, 10.9), (66.7, 10.9), (66.7, 12), (66, 13), (65, 13), (65, 15.8),
              (63.9, 15.8), (63.9, 16.9), (62.9, 16.9), (62.9, 19), (61.8, 19), (61.8, 20.7), (61.1, 20.7), (61.1, 22.9), (60, 22.9),
              (60, 24), (59, 24), (59, 25), (57.9, 25), (57.9, 25.8), (56.8, 25.8), (56.8, 26.8), (56.1, 26.8), (56.1, 30.7), (54, 30.7),
              (54, 32.8), (53, 32.8), (53, 33.9), (51.2, 33.9), (51.2, 32.8), (49.1, 32.8), (49.1, 31.8), (48, 31.8), (48, 30.7), (47, 30.7),
              (47, 31.8), (45.2, 31.8), (45.2, 32.8), (44.2, 32.8), (44.2, 36), (43.1, 36), (43.1, 37.8), (45.2, 37.8), (45.2, 41), (47, 41),
              (47, 44.9), (43.1, 44.9), (43.1, 46), (44.2, 46), (44.2, 46.7), (45.2, 46.7), (45.2, 47.7), (46.2, 47.7), (46.2, 49.9), (48, 49.9),
              (48, 50.9), (51.2, 50.9), (51.2, 51.6), (52, 51.6), (52, 50.9), (53, 50.9), (53, 51.6), (56.1, 51.6)]
b_orange_2 = [(61.8, 30), (62.9, 30), (62.9, 29), (61.8, 29)]
b_orange_3 = [(62.9, 29), (63.9, 29), (63.9, 27.9), (62.9, 27.9)]
b_yg_5 = [(59, 27.9), (60.5, 27.9), (61.1, 26.8), (59, 26.8)]
b_yg_6 = [(47, 41), (49.1, 41), (49.1, 38.8), (48, 39.9), (47, 39.9)]
b_red_1 = [(56.1, 46), (56.8, 46), (56.8, 44.9), (57.9, 44.9), (57.9, 38.8), (56.8, 38.8), (56.8, 37.8), (56.1, 37.8), (56.1, 36.7),
           (54, 36.7), (54, 36), (53, 36), (53, 36.7), (52, 36.7), (52, 37.8), (50.2, 37.8), (50.2, 41.7), (51.2, 41.7), (51.2, 43.9),
           (53, 43.9), (53, 44.9), (56.1, 44.9)]

b_regions = [(1, b_blue_1), (1, b_blue_2), (1, b_blue_3), (1, b_blue_4), (1, b_blue_5), (1, b_blue_6), (1, b_blue_7), (1, b_blue_8),
             (1, b_blue_9), (1, b_blue_10), (1, b_blue_11), (1, b_blue_12), (1, b_blue_13), (0, b_navy_1),
             (3, b_green_main), (2, b_teal_1), (3, b_green_2), (3, b_green_3), (2, b_teal_2), (3, b_green_4), (2, b_teal_3), (2, b_teal_4),
             (2, b_teal_5), (2, b_teal_6), (2, b_teal_7), (2, b_teal_8), (3, b_green_5), (3, b_green_6), (3, b_green_7), (3, b_green_8),
             (4, b_yg_1), (4, b_yg_main), (3, b_green_9), (3, b_green_10), (3, b_green_11), (3, b_green_12), (4, b_yg_2), (4, b_yg_3), (4, b_yg_4),
             (5, b_orange_1), (5, b_orange_2), (5, b_orange_3), (4, b_yg_5), (4, b_yg_6), (6, b_red_1),
             (1, b_blue_14), (1, b_blue_15), (1, b_blue_16), (1, b_blue_17)]

edges = np.linspace(1, 103, 104)
centers = (edges[:-1] + edges[1:]) / 2
xx, yy = np.meshgrid(centers, centers)
points = np.column_stack([xx.ravel(), yy.ravel()])


def make_grid(base, regions):
    grid = np.full(xx.shape, base)
    for level, poly in regions:
        inside = Path(poly + poly[:1]).contains_points(points).reshape(xx.shape)
        grid[inside] = level
    return grid


def add_axes_px(fig, left, top, right, bottom):
    return fig.add_axes([left / W, 1 - bottom / H, (right - left) / W, (bottom - top) / H])


TICK_FONT = "Liberation Sans"
TICK_SIZE = 24


def draw_panel(fig, box, grid, colors, letter, letter_xy, last_shift=0):
    ax = add_axes_px(fig, *box)
    cmap = ListedColormap(colors)
    ax.pcolormesh(edges, edges, grid, cmap=cmap, vmin=-0.5, vmax=len(colors) - 0.5, antialiased=False)
    for line in lines:
        xs, ys = zip(*line)
        ax.plot(xs, ys, color="black", lw=1.7, solid_joinstyle="miter")
    ax.set_xlim(1, 103)
    ax.set_ylim(1, 103)
    ax.set_xticks([1, 103])
    ax.set_yticks([1, 103])
    ax.tick_params(length=0, labelsize=TICK_SIZE)
    ax.tick_params(axis="x", pad=32)
    ax.tick_params(axis="y", pad=21)
    for lab in ax.get_xticklabels() + ax.get_yticklabels():
        lab.set_family(TICK_FONT)
    for lab in ax.get_xticklabels():
        lab.set_ha("left")
    last = ax.get_xticklabels()[-1]
    last.set_transform(last.get_transform() + ScaledTranslation(last_shift / 100, 0, fig.dpi_scale_trans))
    for s in ax.spines.values():
        s.set_linewidth(2.6)
    fig.text(letter_xy[0] / W, 1 - letter_xy[1] / H, letter, fontsize=58, family="Liberation Sans",
             ha="center", va="center")


def draw_bar(fig, box, levels, colors):
    ax = add_axes_px(fig, *box)
    ax.pcolormesh([0, 1], levels, np.arange(len(colors)).reshape(-1, 1),
                  cmap=ListedColormap(colors), vmin=-0.5, vmax=len(colors) - 0.5)
    ax.set_xticks([])
    ax.yaxis.tick_right()
    ax.set_yticks(levels)
    ax.tick_params(length=0, labelsize=TICK_SIZE, pad=87)
    for lab in ax.get_yticklabels():
        lab.set_family(TICK_FONT)
    ax.set_xlabel("ppbV", fontsize=TICK_SIZE, family=TICK_FONT, labelpad=28, loc="left")
    for s in ax.spines.values():
        s.set_linewidth(2.4)


fig = plt.figure(figsize=(W / 100, H / 100), dpi=100)
draw_bar(fig, (40, 58, 75, 1103), levels_a, colors_a)
draw_bar(fig, (1368, 66, 1402, 1116), levels_b, colors_b)
draw_panel(fig, (332, 61, 1209, 1121), make_grid(2, a_regions), colors_a, "(a)", (763, 1285))
draw_panel(fig, (1659, 69, 2537, 1127), make_grid(2, b_regions), colors_b, "(b)", (2092, 1268), last_shift=-8)
fig.savefig("out.png", dpi=100)
